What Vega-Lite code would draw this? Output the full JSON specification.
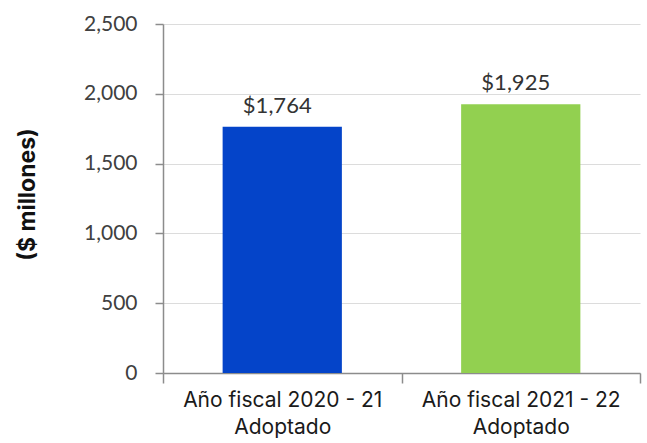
{
  "$schema": "https://vega.github.io/schema/vega-lite/v6.json",
  "width": 477,
  "height": 349,
  "autosize": {"type": "none"},
  "padding": {"left": 163, "top": 24, "right": 7, "bottom": 70},
  "background": "white",
  "data": {
    "values": [
      {"year": "Año fiscal 2020 - 21|Adoptado", "value": 1764, "label": "$1,764", "color": "c1"},
      {"year": "Año fiscal 2021 - 22|Adoptado", "value": 1925, "label": "$1,925", "color": "c2"}
    ]
  },
  "encoding": {
    "x": {
      "field": "year",
      "type": "nominal",
      "sort": null,
      "scale": {"paddingInner": 0, "paddingOuter": 0},
      "axis": {
        "title": null,
        "labelAngle": 0,
        "labelExpr": "split(datum.label, '|')",
        "labelFont": "Inter",
        "labelFontSize": 21,
        "labelColor": "#1a1a1a",
        "labelLineHeight": 27,
        "labelPadding": 6,
        "labelLimit": 0,
        "labelBaseline": "top",
        "tickBand": "extent",
        "tickSize": 10,
        "tickColor": "#8c8c8c",
        "domainColor": "#8c8c8c",
        "domainWidth": 1.5,
        "tickWidth": 1.5,
        "grid": false
      }
    },
    "y": {
      "field": "value",
      "type": "quantitative",
      "scale": {"domain": [0, 2500], "nice": false},
      "axis": {
        "title": "($ millones)",
        "titleFont": "Inter",
        "titleFontSize": 23,
        "titleFontWeight": "bold",
        "titleColor": "#111111",
        "titleAngle": -90,
        "titleAlign": "center",
        "titleBaseline": "middle",
        "titleX": -136,
        "titleY": 170,
        "values": [0, 500, 1000, 1500, 2000, 2500],
        "format": ",.0f",
        "labelFont": "Lato",
        "labelFontSize": 21,
        "labelColor": "#404040",
        "labelPadding": 18,
        "tickSize": 8,
        "tickColor": "#8c8c8c",
        "tickWidth": 1.5,
        "domainColor": "#8c8c8c",
        "domainWidth": 1.5,
        "gridColor": "#dcdcdc",
        "gridWidth": 1.2
      }
    }
  },
  "layer": [
    {
      "mark": {"type": "bar", "width": {"band": 0.5}},
      "encoding": {
        "color": {
          "field": "color",
          "type": "nominal",
          "scale": {"domain": ["c1", "c2"], "range": ["#0444C9", "#92D050"]},
          "legend": null
        }
      }
    },
    {
      "mark": {"type": "text", "baseline": "bottom", "dy": -9, "dx": -5, "font": "Lato", "fontSize": 22, "color": "#333333"},
      "encoding": {"text": {"field": "label"}}
    }
  ],
  "config": {"view": {"stroke": null}}
}
